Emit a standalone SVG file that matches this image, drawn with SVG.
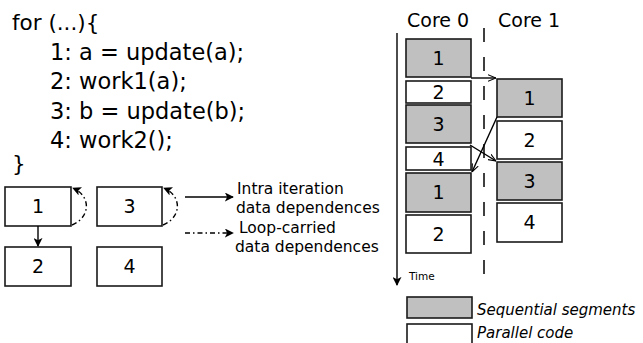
<svg xmlns="http://www.w3.org/2000/svg" width="643" height="343" viewBox="0 0 643 343">
<style>
text{font-family:"DejaVu Sans","Liberation Sans",sans-serif;fill:#000}
.code{font-size:22.5px}
.code0{font-size:21.5px}
.hd{font-size:19px}
.num{font-size:19px;text-anchor:middle}
.lg{font-size:15.5px}
.it{font-size:15px;font-style:italic}
.box{fill:#fff;stroke:#1a1a1a;stroke-width:1.6}
.seq{fill:#c0c0c0;stroke:#1a1a1a;stroke-width:1.6}
.ln{fill:none;stroke:#000;stroke-width:1.4}
.dd{fill:none;stroke:#000;stroke-width:1.4;stroke-dasharray:5 3 1.5 3}
</style>
<defs>
<marker id="fb" viewBox="0 0 10 10" refX="9" refY="5" markerWidth="9" markerHeight="9" orient="auto" markerUnits="userSpaceOnUse">
<path d="M0,0 L10,5 L0,10 L2.5,5 Z" fill="#000"/>
</marker>
<marker id="oa" viewBox="0 0 10 10" refX="10" refY="5" markerWidth="8" markerHeight="8" orient="auto" markerUnits="userSpaceOnUse">
<path d="M0,1 L10,5 L0,9" fill="none" stroke="#000" stroke-width="1.3"/>
</marker>
</defs>

<g id="code">
<text class="code0" x="12" y="30">for (...){</text>
<text class="code" x="50" y="60">1: a = update(a);</text>
<text class="code" x="50" y="89">2: work1(a);</text>
<text class="code" x="50" y="119">3: b = update(b);</text>
<text class="code" x="50" y="148">4: work2();</text>
<text class="code0" x="12" y="171">}</text>
</g>

<g id="n1"><rect class="box" x="5" y="187" width="66" height="39"/><text class="num" x="38" y="213">1</text></g>
<g id="n2"><rect class="box" x="5" y="247" width="66" height="39"/><text class="num" x="38" y="273">2</text></g>
<g id="n3"><rect class="box" x="97" y="187" width="65" height="39"/><text class="num" x="129.5" y="213">3</text></g>
<g id="n4"><rect class="box" x="97" y="247" width="65" height="39"/><text class="num" x="129.5" y="273">4</text></g>

<g id="legend-deps">
<text class="lg" x="237" y="194">Intra iteration</text>
<text class="lg" x="236" y="213">data dependences</text>
<text class="lg" x="239" y="233">Loop-carried</text>
<text class="lg" x="235" y="252">data dependences</text>
</g>

<g id="core-labels">
<text class="hd" x="407" y="27">Core 0</text>
<text class="hd" x="498" y="27">Core 1</text>
<text x="409" y="280" style="font-size:10.5px">Time</text>
</g>

<g id="core0">
<g id="c0-1"><rect class="seq" x="406" y="39" width="65" height="38"/><text class="num" x="438.5" y="65">1</text></g>
<g id="c0-2"><rect class="box" x="406" y="81" width="65" height="22"/><text class="num" x="438.5" y="99">2</text></g>
<g id="c0-3"><rect class="seq" x="406" y="105" width="65" height="38"/><text class="num" x="438.5" y="131">3</text></g>
<g id="c0-4"><rect class="box" x="406" y="147" width="65" height="23"/><text class="num" x="438.5" y="166">4</text></g>
<g id="c0-5"><rect class="seq" x="406" y="173" width="65" height="39"/><text class="num" x="438.5" y="199">1</text></g>
<g id="c0-6"><rect class="box" x="406" y="215" width="65" height="38"/><text class="num" x="438.5" y="241">2</text></g>
</g>

<g id="core1">
<g id="c1-1"><rect class="seq" x="497" y="79" width="65" height="38"/><text class="num" x="529.5" y="105">1</text></g>
<g id="c1-2"><rect class="box" x="497" y="121" width="65" height="38"/><text class="num" x="529.5" y="147">2</text></g>
<g id="c1-3"><rect class="seq" x="497" y="162" width="65" height="38"/><text class="num" x="529.5" y="188">3</text></g>
<g id="c1-4"><rect class="box" x="497" y="203" width="65" height="39"/><text class="num" x="529.5" y="229">4</text></g>
</g>

<g id="legend-seg">
<rect class="seq" x="407" y="297" width="65" height="21"/>
<text class="it" x="477" y="315">Sequential segments</text>
<rect class="box" x="407" y="324" width="65" height="21"/>
<text class="it" x="477" y="338">Parallel code</text>
</g>

<g id="connectors">
<line class="ln" x1="38" y1="226" x2="38" y2="246" marker-end="url(#fb)"/>
<path class="dd" d="M72,225 C91,217 91,196 73,188" marker-end="url(#fb)"/>
<path class="dd" d="M163,225 C182,217 182,196 164,188" marker-end="url(#fb)"/>
<line class="ln" x1="185" y1="197" x2="233" y2="197" marker-end="url(#fb)"/>
<line class="dd" x1="185" y1="233" x2="233" y2="233" marker-end="url(#fb)"/>
<line class="ln" x1="397" y1="33" x2="397" y2="285" marker-end="url(#fb)"/>
<line x1="484" y1="28" x2="484" y2="277" stroke="#000" stroke-width="1.5" stroke-dasharray="14 15"/>
<line class="ln" x1="471" y1="78" x2="496" y2="78" stroke-width="1.1" marker-end="url(#oa)"/>
<line class="ln" x1="497" y1="117" x2="472" y2="172" stroke-width="1.1" marker-end="url(#oa)"/>
<line class="ln" x1="470" y1="145" x2="496" y2="161" stroke-width="1.1" marker-end="url(#oa)"/>
</g>
</svg>
